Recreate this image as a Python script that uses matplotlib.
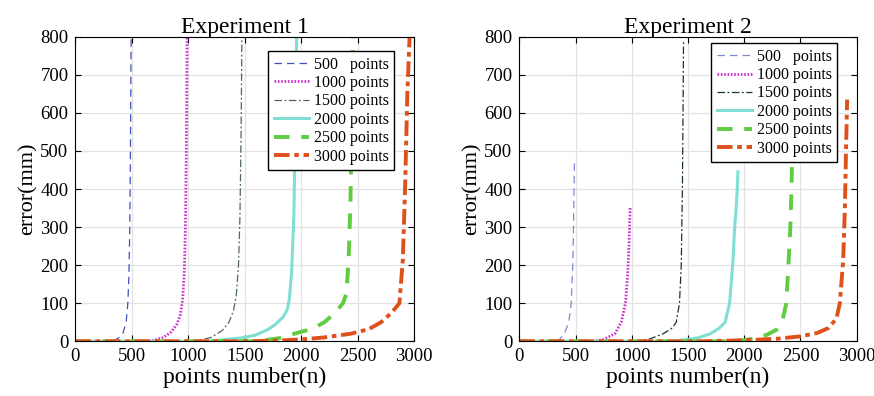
import matplotlib
matplotlib.use("Agg")
import matplotlib.pyplot as plt

plt.rcParams['font.family'] = 'serif'
plt.rcParams['font.serif'] = ['Liberation Serif', 'DejaVu Serif']

labels = ['500   points', '1000 points', '1500 points', '2000 points', '2500 points', '3000 points']

# Experiment 1
e1_x500 = [0, 100, 200, 300, 340, 380, 420, 450, 465, 475, 482, 488, 494]
e1_y500 = [0, 0, 0, 0, 2, 8, 20, 50, 100, 180, 300, 500, 800]
e1_x1000 = [0, 300, 600, 700, 780, 850, 900, 930, 950, 965, 975, 983, 990]
e1_y1000 = [0, 0, 0, 3, 10, 25, 45, 70, 110, 180, 300, 500, 800]
e1_x1500 = [0, 500, 1000, 1100, 1200, 1300, 1360, 1400, 1425, 1445, 1458, 1468, 1475]
e1_y1500 = [0, 0, 0, 3, 10, 28, 50, 80, 120, 200, 330, 550, 800]
e1_x2000 = [0, 1000, 1160, 1300, 1500, 1600, 1700, 1770, 1840, 1875, 1895, 1915, 1935, 1948, 1960]
e1_y2000 = [0, 0, 0, 4, 10, 17, 30, 44, 64, 82, 110, 180, 330, 550, 800]
e1_x2500 = [0, 1500, 1610, 1800, 1940, 2100, 2205, 2300, 2370, 2400, 2420, 2435, 2447, 2457]
e1_y2500 = [0, 0, 0, 8, 20, 33, 50, 75, 100, 125, 213, 350, 550, 800]
e1_x3000 = [0, 1500, 1800, 2000, 2200, 2440, 2600, 2707, 2800, 2870, 2900, 2920, 2940, 2960]
e1_y3000 = [0, 0, 2, 5, 10, 20, 32, 50, 75, 100, 213, 400, 650, 800]

# Experiment 2
e2_x500 = [0, 343, 400, 440, 461, 475, 482, 486, 490]
e2_y500 = [0, 0, 20, 50, 100, 200, 300, 400, 470]
e2_x1000 = [0, 600, 654, 750, 850, 906, 944, 962, 975, 985]
e2_y1000 = [0, 0, 0, 5, 20, 50, 100, 170, 250, 350]
e2_x1500 = [0, 900, 1015, 1150, 1280, 1360, 1395, 1424, 1440, 1450, 1457, 1460]
e2_y1500 = [0, 0, 0, 5, 20, 35, 50, 100, 200, 400, 650, 790]
e2_x2000 = [0, 1300, 1400, 1500, 1600, 1700, 1780, 1830, 1870, 1900, 1915, 1928, 1938, 1944]
e2_y2000 = [0, 0, 2, 5, 10, 20, 35, 50, 100, 213, 300, 350, 400, 445]
e2_x2500 = [0, 1800, 1900, 2000, 2100, 2200, 2285, 2344, 2374, 2395, 2410, 2420, 2428]
e2_y2500 = [0, 0, 1, 3, 8, 17, 30, 60, 100, 213, 300, 400, 520]
e2_x3000 = [0, 1600, 1900, 2100, 2300, 2500, 2650, 2750, 2820, 2850, 2880, 2895, 2905, 2915]
e2_y3000 = [0, 0, 2, 4, 7, 13, 22, 35, 60, 100, 213, 350, 500, 635]

xticks = [0, 500, 1000, 1500, 2000, 2500, 3000]
yticks = [0, 100, 200, 300, 400, 500, 600, 700, 800]

styles1 = [
    dict(color='#4050c0', lw=0.9, dashes=(6, 4)),
    dict(color='#cc33cc', lw=2.0, linestyle=(0, (0.6, 0.6))),
    dict(color='#50685a', lw=0.9, dashes=(6, 2, 1.5, 2)),
    dict(color='#7fdfd2', lw=2.2, linestyle='-'),
    dict(color='#60cc40', lw=2.8, dashes=(4, 3)),
    dict(color='#e0501a', lw=2.8, dashes=(4, 1.2, 1.2, 1.2)),
]
styles2 = [dict(s) for s in styles1]
styles2[0]['color'] = '#7f88d0'
styles2[2]['color'] = '#1a3528'

fig = plt.figure(figsize=(8.74, 3.96), dpi=100)
ax1 = fig.add_axes([0.0862, 0.1381, 0.3876, 0.7692])
ax2 = fig.add_axes([0.5942, 0.1381, 0.3860, 0.7692])

exp1 = [(e1_x500, e1_y500), (e1_x1000, e1_y1000), (e1_x1500, e1_y1500),
        (e1_x2000, e1_y2000), (e1_x2500, e1_y2500), (e1_x3000, e1_y3000)]
exp2 = [(e2_x500, e2_y500), (e2_x1000, e2_y1000), (e2_x1500, e2_y1500),
        (e2_x2000, e2_y2000), (e2_x2500, e2_y2500), (e2_x3000, e2_y3000)]

for ax, data, styles, title, anchor in [
        (ax1, exp1, styles1, 'Experiment 1', (0.941, 0.953)),
        (ax2, exp2, styles2, 'Experiment 2', (0.942, 0.979))]:
    for (x, y), st, lab in zip(data, styles, labels):
        ax.plot(x, y, label=lab, **st)
    ax.set_xlim(0, 3000)
    ax.set_ylim(0, 800)
    ax.set_xticks(xticks)
    ax.set_yticks(yticks)
    ax.grid(True, color='#e2e2e2', lw=0.9)
    ax.set_axisbelow(True)
    ax.tick_params(direction='in', top=True, right=True, labelsize=13.5, length=4, pad=5)
    ax.set_title(title, fontsize=17, pad=3)
    ax.set_xlabel('points number(n)', fontsize=17, labelpad=1)
    ax.set_ylabel('error(mm)', fontsize=16, labelpad=2)
    leg = ax.legend(loc='upper right', bbox_to_anchor=anchor, fontsize=11.5,
                    fancybox=False, edgecolor='black', framealpha=1,
                    handlelength=2.2, labelspacing=0.15, handletextpad=0.3,
                    borderpad=0.35, borderaxespad=0)
    leg.get_frame().set_linewidth(1.0)

fig.savefig('out.png', dpi=100)
